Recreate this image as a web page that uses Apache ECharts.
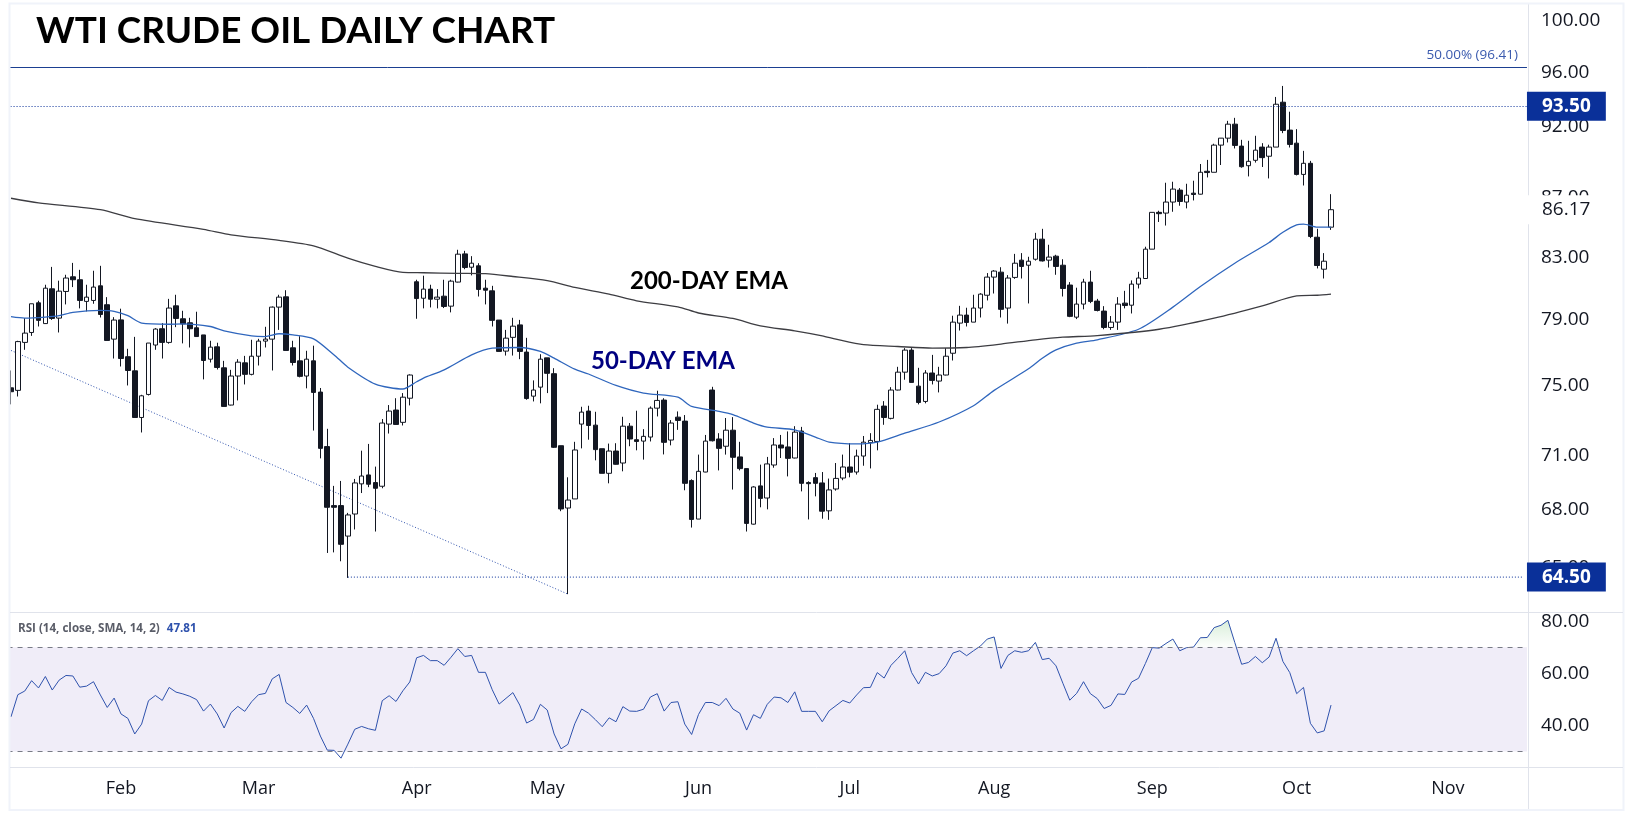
<!DOCTYPE html>
<html><head><meta charset="utf-8">
<style>html,body{margin:0;padding:0;background:#fff}#c{width:1634px;height:814px}</style>
<script src="https://cdn.jsdelivr.net/npm/echarts@6/dist/echarts.min.js"></script>
</head><body><div id="c"></div>
<script>
const opens = [
74.88,74.73,77.61,78.22,80.07,78.77,80.96,79.11,80.79,81.73,
81.54,80.16,80.22,81.15,79.95,77.81,79.0,76.74,75.89,73.15,
74.49,77.45,78.45,77.61,79.88,79.07,78.82,78.51,78.07,76.59,
77.34,76.07,73.87,75.58,76.37,75.68,76.77,77.69,77.81,79.80,
80.45,77.28,76.49,75.58,76.49,74.63,71.49,68.24,68.24,66.62,
67.79,69.42,69.91,69.49,69.29,72.77,73.58,72.87,74.27,81.41,
80.36,80.94,80.30,80.49,79.86,81.39,83.22,82.35,82.44,81.0,
80.83,78.99,77.08,77.92,78.69,77.02,74.39,74.92,76.67,75.72,
71.54,68.11,68.60,72.77,73.52,72.71,71.37,70.0,71.24,70.57,
72.65,71.88,71.80,72.03,73.69,74.16,71.86,73.17,72.94,69.60,
67.52,70.07,74.75,71.92,71.51,72.42,70.91,70.26,67.25,69.31,
68.65,70.46,71.58,71.47,70.85,72.37,69.49,69.76,69.47,67.96,
69.14,69.74,70.35,70.07,70.96,71.71,71.78,73.81,73.10,74.75,
75.81,77.14,74.98,74.08,75.76,75.28,75.64,76.95,78.80,79.30,
78.86,79.74,80.55,81.71,82.03,79.74,81.69,82.81,82.48,82.87,
84.19,82.81,83.07,82.48,81.20,79.17,79.99,81.39,80.18,79.55,
78.53,78.86,80.05,79.92,81.26,81.62,83.53,85.99,85.94,86.69,
87.51,86.69,87.30,87.23,88.82,88.75,90.67,91.17,92.18,90.60,
89.21,89.59,90.53,89.88,90.53,93.79,91.75,90.81,88.60,89.38,
84.32,82.22,84.99];
const closes = [
74.65,77.66,78.18,80.01,78.97,81.0,79.09,80.81,81.65,81.54,
80.22,80.43,81.07,79.34,77.73,78.99,76.63,75.91,73.15,74.41,
77.57,78.43,77.61,79.74,79.09,78.75,78.45,77.97,76.51,77.32,
76.09,73.79,75.58,76.41,75.68,76.77,77.69,77.81,79.80,80.43,
77.12,76.39,75.56,76.59,74.61,71.39,68.15,68.15,66.19,67.74,
69.47,69.85,69.40,69.18,72.83,73.52,72.75,74.33,75.64,80.34,
80.94,80.30,80.43,79.84,81.45,83.20,82.33,82.61,80.92,80.87,
78.97,77.06,77.87,78.61,77.06,74.25,74.75,76.59,75.74,71.45,
68.06,68.54,71.30,73.46,72.69,71.32,70.0,71.24,70.50,72.65,
71.92,71.78,72.07,73.69,74.14,71.73,72.83,72.98,69.45,67.50,
70.11,71.80,71.82,71.39,72.42,70.89,70.26,67.29,69.25,68.63,
70.52,71.58,71.41,70.83,72.31,69.45,69.43,69.45,67.94,69.09,
69.72,70.35,70.06,70.96,71.74,71.84,73.62,73.15,74.75,75.81,
77.14,75.20,74.02,75.76,75.32,75.64,76.77,78.86,79.30,78.84,
79.74,80.62,81.71,82.10,79.66,81.65,82.61,82.40,82.74,84.19,
82.76,83.01,82.40,80.98,79.22,79.99,81.39,80.16,79.59,78.53,
78.86,79.99,79.90,81.26,81.65,83.53,85.99,85.90,86.69,87.58,
86.73,87.16,87.21,88.75,88.73,90.67,91.17,92.18,90.65,89.14,
89.52,90.31,89.78,90.53,93.64,91.72,90.72,88.60,89.38,84.37,
82.46,82.74,86.17];
const lows = [
73.91,74.37,77.16,78.01,78.59,78.75,79.0,78.22,79.97,81.07,
79.72,79.53,80.01,79.15,77.73,76.63,76.15,75.02,73.15,72.29,
74.43,77.16,76.63,77.53,78.55,77.55,77.30,77.97,75.38,76.39,
75.97,73.79,73.85,74.14,75.08,75.62,76.21,77.30,75.91,78.38,
77.12,76.21,75.50,74.85,72.40,70.83,65.74,65.77,65.31,64.46,
66.97,68.92,69.24,66.86,69.18,72.23,72.73,72.69,73.85,79.07,
79.72,79.78,79.72,79.74,79.47,81.37,82.22,81.82,80.47,79.97,
78.59,77.06,76.81,76.81,76.59,74.18,74.08,73.97,74.57,71.41,
67.94,63.64,68.60,71.39,71.88,70.72,70.0,69.45,70.48,70.11,
71.51,71.28,70.76,71.78,73.21,71.05,71.56,72.44,69.07,67.07,
67.52,70.06,71.78,70.16,71.04,69.11,70.16,66.86,67.23,68.15,
68.04,70.31,70.85,69.83,70.83,69.01,67.50,68.74,67.54,67.48,
69.05,69.62,69.78,69.93,70.42,70.27,71.28,72.73,73.04,74.73,
75.36,75.20,73.91,73.97,75.08,74.61,75.62,76.51,78.34,78.59,
78.86,79.15,80.22,80.66,79.15,78.77,81.60,81.62,80.03,82.78,
82.72,82.33,81.86,80.47,79.17,79.05,79.66,80.05,79.53,78.42,
78.38,78.38,79.72,79.40,80.98,81.60,83.53,85.34,85.10,86.03,
86.44,86.26,86.80,87.21,88.39,88.75,89.26,90.86,90.43,89.07,
88.46,89.43,89.12,88.32,90.53,91.53,90.50,88.53,87.83,84.26,
82.27,81.62,84.81];
const highs = [
75.91,77.71,79.11,80.01,80.20,81.22,82.37,81.48,81.86,82.63,
82.18,81.22,82.12,82.44,80.43,79.17,79.70,77.22,77.95,74.47,
77.57,78.49,78.80,80.32,80.58,79.57,79.13,79.51,78.07,77.71,
77.59,76.49,75.95,76.59,76.79,77.77,77.83,78.57,79.84,80.58,
80.87,77.71,77.99,77.10,77.41,74.87,72.50,69.31,69.58,67.85,
69.69,71.26,71.64,70.37,73.06,73.87,74.27,74.57,75.68,81.54,
81.80,81.22,80.94,81.54,81.54,83.49,83.42,83.07,82.61,81.54,
81.15,78.99,78.38,79.13,79.0,77.89,75.32,76.89,76.67,76.05,
71.54,69.78,71.76,73.77,73.83,73.48,71.37,71.66,71.68,73.19,
72.83,73.54,72.48,73.79,74.71,74.27,73.0,73.50,73.29,69.67,
71.04,72.15,74.94,72.25,73.12,73.17,71.76,70.26,69.29,70.48,
70.91,71.97,72.15,72.35,72.65,72.61,69.56,70.02,70.07,69.71,
70.57,71.04,71.69,71.32,72.09,72.25,73.89,74.10,74.92,76.13,
77.26,77.26,76.07,75.93,76.85,76.13,77.26,79.26,79.88,79.76,
80.58,80.68,81.97,82.16,82.35,81.84,83.22,83.27,83.03,84.61,
84.88,83.82,83.16,82.87,81.39,81.03,81.60,82.12,80.32,79.86,
79.24,80.43,80.83,81.50,82.05,83.69,85.99,86.10,88.02,88.09,
87.65,87.95,88.16,89.33,89.62,90.77,91.17,92.42,92.64,91.05,
90.98,91.34,90.81,90.70,94.18,95.0,93.09,91.82,90.26,89.55,
84.88,83.27,87.23];
const rsi = [
43.3,51.8,53.2,57.2,54.4,58.8,53.6,57.4,59.2,59.0,
54.7,55.1,56.8,51.7,46.9,50.5,44.4,42.7,36.7,40.5,
49.5,51.5,49.6,54.6,52.8,52.1,51.2,49.9,45.5,48.2,
44.4,39.0,44.9,47.3,45.4,49.1,51.8,52.3,57.9,59.6,
48.8,46.9,44.6,47.8,42.7,35.9,30.5,30.4,27.4,32.8,
38.5,39.6,38.7,38.1,49.5,51.4,49.2,53.3,56.7,66.0,
66.9,64.9,64.9,63.1,66.2,69.5,66.5,66.9,60.4,60.4,
53.7,48.2,50.4,52.6,47.8,40.9,42.3,48.1,45.9,36.7,
31.0,32.7,40.6,46.3,44.7,42.2,39.5,42.9,41.4,47.2,
45.5,45.4,46.2,50.9,52.2,45.5,48.8,49.1,40.5,36.5,
44.2,48.8,48.8,47.6,50.4,46.3,44.7,38.2,44.1,42.7,
48.1,50.9,50.6,48.8,52.9,45.4,45.4,45.4,41.4,45.6,
47.6,49.6,48.6,51.7,54.5,54.6,60.3,58.2,63.1,65.8,
68.7,60.3,55.9,60.4,59.0,59.9,62.9,67.8,68.7,66.8,
68.7,70.5,73.2,74.0,61.9,66.9,68.7,68.1,68.7,71.9,
65.3,65.8,62.9,56.2,49.7,52.3,56.8,52.2,50.3,46.5,
47.7,52.1,51.9,56.7,58.1,63.8,69.9,69.7,71.5,73.2,
68.7,69.9,70.1,73.7,73.8,77.6,78.5,80.4,71.9,63.5,
64.2,66.5,64.1,66.3,73.5,64.6,60.3,52.2,54.6,40.8,
37.1,37.9,47.81];
const ema50 = [[0,79.20],[2,79.11],[5,79.17],[7,79.26],[9,79.47],[13,79.59],[15,79.53],[17,79.26],[19,78.80],[23,78.73],[25,78.75],[29,78.59],[31,78.32],[35,78.01],[37,77.97],[39,78.14],[41,78.07],[44,77.83],[47,76.85],[49,76.11],[53,75.10],[57,74.81],[59,75.24],[60,75.46],[63,75.95],[67,76.85],[70,77.26],[74,77.30],[77,77.06],[79,76.65],[82,75.99],[84,75.70],[88,75.02],[92,74.57],[97,74.33],[99,73.79],[103,73.50],[105,73.31],[108,72.83],[110,72.60],[114,72.44],[117,72.03],[119,71.74],[123,71.64],[126,71.74],[130,72.25],[135,72.89],[140,73.83],[143,74.73],[148,76.01],[150,76.65],[152,77.16],[155,77.57],[158,77.77],[164,78.42],[169,79.80],[173,81.11],[178,82.61],[183,83.97],[185,84.65],[187,85.15],[188,85.19],[190,84.99],[192,85.0]];
const ema200 = [[0,86.95],[4,86.64],[13,86.17],[18,85.56],[28,84.85],[32,84.48],[39,84.11],[44,83.75],[49,82.94],[53,82.40],[57,82.01],[60,81.99],[65,81.95],[69,81.93],[73,81.75],[78,81.48],[82,81.05],[87,80.62],[91,80.20],[97,79.82],[100,79.43],[105,79.09],[109,78.63],[114,78.32],[118,78.01],[120,77.81],[124,77.47],[129,77.36],[134,77.26],[139,77.30],[144,77.51],[149,77.77],[153,77.93],[158,78.03],[167,78.42],[175,79.11],[182,79.88],[187,80.51],[190,80.55],[192,80.62]];
const trendLine = [[0,77.12],[81,63.64]];
const supportSegment = [[49,64.5],[220,64.5]];
const priceTicks = [100,96,92,87,83,79,75,71,68,65];
const rsiTicks = [40,60,80];
const monthNames = ['Feb','Mar','Apr','May','Jun','Jul','Aug','Sep','Oct','Nov'];
const monthIndex = [16,36,59,78,100,122,143,166,187,209];
const barCount = 221;
const categories = Array.from({length:barCount},(_,i)=>{const k=monthIndex.indexOf(i);return k>=0?monthNames[k]:String(i);});
const candleData = opens.map((o,i)=>[o,closes[i],lows[i],highs[i]]);

const FONT='"Open Sans",sans-serif', HEAD='Lato,sans-serif';
const BLUE='#0a3099', INK='#131722', PANE='#e0e3eb';
const boxLabel=(bg,fg,w)=>({show:true,position:'end',distance:0,formatter:p=>p.value.toFixed(2),
  backgroundColor:bg,color:fg,fontFamily:FONT,fontSize:19,fontWeight:w,lineHeight:19,padding:[5,15,5,15]});
const xBase={type:'category',data:categories,boundaryGap:true,axisTick:{show:false},axisLine:{show:false},splitLine:{show:false}};

const option={
 animation:false,backgroundColor:'#fff',
 title:[
  {text:'WTI CRUDE OIL DAILY CHART',left:36,top:11,padding:0,textStyle:{fontFamily:HEAD,fontSize:36.9,fontWeight:'bold',color:'#000',lineHeight:40}},
  {text:'200-DAY EMA',left:630,top:266,padding:0,textStyle:{fontFamily:HEAD,fontSize:24,fontWeight:'bold',color:'#000',lineHeight:30}},
  {text:'50-DAY EMA',left:591,top:346,padding:0,textStyle:{fontFamily:HEAD,fontSize:24,fontWeight:'bold',color:'#000080',lineHeight:30}},
  {text:'{a|RSI (14, close, SMA, 14, 2)} {b|47.81}',left:18,top:620,padding:0,textStyle:{rich:{
    a:{fontFamily:FONT,fontSize:11.6,color:'#5a5d68'},b:{fontFamily:FONT,fontSize:11.6,color:'#2f52ad',padding:[0,0,0,2]}}}}
 ],
 grid:[{left:7.56,width:1519.4,top:4,height:608},{left:7.56,width:1519.4,top:612,height:155}],
 xAxis:[
  Object.assign({},xBase,{gridIndex:0,axisLabel:{show:false}}),
  Object.assign({},xBase,{gridIndex:1,axisLabel:{show:true,margin:13,color:INK,fontFamily:FONT,fontSize:18,
    interval:(i)=>monthIndex.includes(i),hideOverlap:false}})
 ],
 yAxis:[
  {type:'log',logBase:10,gridIndex:0,position:'right',min:62.75,max:101.34,scale:true,
   axisLine:{show:false},axisTick:{show:false},splitLine:{show:false},minorTick:{show:false},minorSplitLine:{show:false},
   axisLabel:{show:true,customValues:priceTicks,margin:14,align:'left',padding:[2,0,0,0],color:INK,fontFamily:FONT,fontSize:19,formatter:v=>Number(v).toFixed(2),hideOverlap:false},
   },
  {type:'value',gridIndex:1,position:'right',min:24,max:83.6,
   axisLine:{show:false},axisTick:{show:false},splitLine:{show:false},
   axisLabel:{show:true,customValues:rsiTicks,margin:14,align:'left',color:INK,fontFamily:FONT,fontSize:19,formatter:v=>Number(v).toFixed(2),hideOverlap:false}}
 ],
 series:[
  {name:'WTI',type:'candlestick',xAxisIndex:0,yAxisIndex:0,data:candleData,barWidth:5.2,z:3,
   itemStyle:{color:'#ffffff',color0:INK,borderColor:INK,borderColor0:INK,borderWidth:1}},
  {name:'50-day EMA',type:'line',xAxisIndex:0,yAxisIndex:0,data:ema50,showSymbol:false,smooth:0.25,z:4,lineStyle:{color:'#2f66bd',width:1.3}},
  {name:'200-day EMA',type:'line',xAxisIndex:0,yAxisIndex:0,data:ema200,showSymbol:false,smooth:0.25,z:4,lineStyle:{color:'#3d3d42',width:1.3}},
  {name:'Trend',type:'line',xAxisIndex:0,yAxisIndex:0,data:trendLine,showSymbol:false,z:2,lineStyle:{color:'#2f52ad',width:1,type:[1,2]}},
  {name:'Levels',type:'line',xAxisIndex:0,yAxisIndex:0,data:supportSegment,showSymbol:false,z:5,lineStyle:{color:BLUE,width:1,type:[1,2]},
   markLine:{silent:true,symbol:'none',animation:false,precision:2,z:20,data:[
    {yAxis:96.41,lineStyle:{color:'#1b3f91',width:1,type:'solid'},
      label:{show:true,position:'insideEndTop',distance:5,padding:[0,4,0,0],formatter:'50.00% (96.41)',color:'#3a5aae',fontFamily:FONT,fontSize:13.5}},
    {yAxis:93.5,lineStyle:{color:BLUE,width:1,type:[1,2]},label:boxLabel(BLUE,'#fff','bold')},
    {yAxis:86.17,lineStyle:{color:'rgba(0,0,0,0)',width:0},label:boxLabel('#fff',INK,'normal')},
    {yAxis:64.5,lineStyle:{color:'rgba(0,0,0,0)',width:0},label:boxLabel(BLUE,'#fff','bold')}
   ]}},
  {name:'RSI fill',type:'line',xAxisIndex:1,yAxisIndex:1,data:rsi.map(v=>Math.max(v,70)),showSymbol:false,z:2,lineStyle:{width:0},
   areaStyle:{origin:70,color:{type:'linear',x:0,y:0,x2:0,y2:1,colorStops:[{offset:0,color:'rgba(76,175,80,0.30)'},{offset:1,color:'rgba(76,175,80,0.02)'}]}}},
  {name:'RSI',type:'line',xAxisIndex:1,yAxisIndex:1,data:rsi,showSymbol:false,z:4,lineStyle:{color:'#2f52ad',width:1},
   markArea:{silent:true,itemStyle:{color:'#f0edf8'},data:[[{yAxis:30},{yAxis:70}]]},
   markLine:{silent:true,symbol:'none',label:{show:false},lineStyle:{color:'#787b86',width:1,type:[5,5]},data:[{yAxis:70},{yAxis:30}]}}
 ],
 graphic:[
  {type:'rect',z:100,silent:true,shape:{x:0,y:0,width:9,height:814},style:{fill:'#fff'}},
  {type:'rect',z:101,silent:true,shape:{x:9.5,y:3.5,width:1614,height:806.5},style:{fill:'none',stroke:'#f0f3fa',lineWidth:2}},
  {type:'line',z:101,silent:true,shape:{x1:10,y1:612.5,x2:1623,y2:612.5},style:{stroke:PANE,lineWidth:1}},
  {type:'line',z:101,silent:true,shape:{x1:10,y1:767.5,x2:1623,y2:767.5},style:{stroke:PANE,lineWidth:1}},
  {type:'line',z:1,silent:true,shape:{x1:1528.5,y1:4,x2:1528.5,y2:810},style:{stroke:PANE,lineWidth:1}}
 ]
};
echarts.init(document.getElementById('c'),null,{renderer:'canvas'}).setOption(option);
</script></body></html>
